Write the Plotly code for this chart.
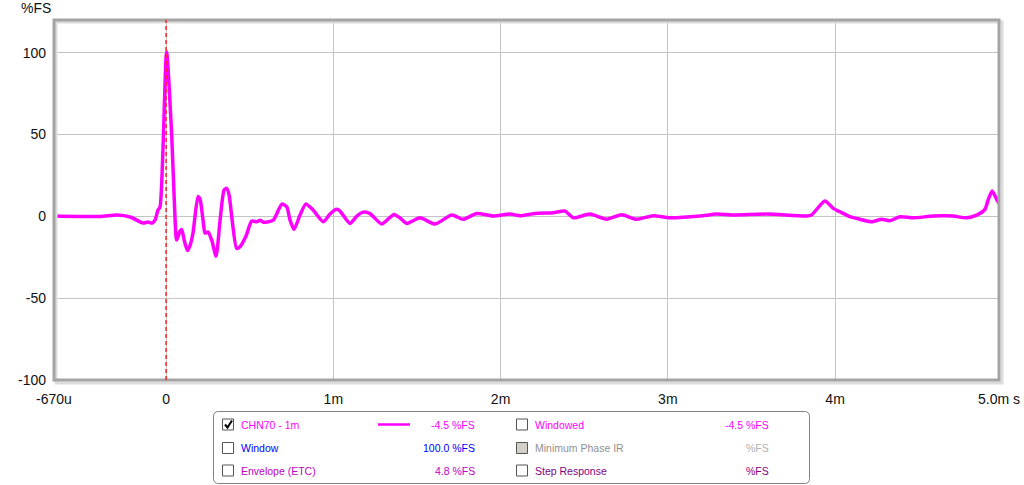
import plotly.graph_objects as go

# ---- data (time in ms, amplitude in %FS) ----
time_ms = [-0.669, -0.394, -0.293, -0.215, -0.137, -0.108, -0.084, -0.066, -0.048, -0.036,
           0.003, 0.034, 0.054, 0.063, 0.084, 0.094, 0.108, 0.128, 0.144, 0.161,
           0.191, 0.203, 0.221, 0.233, 0.251, 0.273, 0.299, 0.323, 0.347, 0.362,
           0.377, 0.395, 0.422, 0.442, 0.478, 0.512, 0.542, 0.562, 0.582, 0.641,
           0.692, 0.722, 0.741, 0.765, 0.801, 0.835, 0.879, 0.940, 0.980, 1.020,
           1.040, 1.099, 1.141, 1.179, 1.219, 1.289, 1.327, 1.363, 1.399, 1.439,
           1.518, 1.608, 1.708, 1.777, 1.857, 1.956, 2.056, 2.116, 2.206, 2.315,
           2.385, 2.435, 2.534, 2.634, 2.724, 2.813, 2.913, 3.012, 3.192, 3.292,
           3.391, 3.591, 3.830, 3.859, 3.939, 3.989, 4.029, 4.089, 4.148, 4.218,
           4.278, 4.328, 4.387, 4.467, 4.586, 4.706, 4.786, 4.846, 4.896, 4.915,
           4.939, 4.966, 4.980]
amplitude = [0.2, -0.1, 0.8, -0.4, -4.1, -3.5, -4.1, -2.3, 3.9, 5.7,
             100.5, 48.7, -2.3, -14.5, -9.0, -8.1, -14.5, -20.9, -17.6, -10.2,
             12.1, 10.6, -2.3, -10.2, -9.6, -14.5, -24.3, -2.3, 16.1, 17.1,
             13.0, -2.3, -19.6, -18.6, -12.0, -2.9, -3.3, -2.3, -3.6, -2.3,
             7.5, 5.7, -2.3, -8.0, 0.8, 7.5, 3.9, -3.3, 1.4, 4.3,
             3.2, -4.3, 0.2, 2.6, 1.7, -4.7, -1.7, 1.2, -1.0, -4.3,
             -0.9, -4.7, 0.8, -1.8, 1.8, 0.2, 1.4, 0.4, 1.8, 2.2,
             3.2, -0.9, 1.4, -1.7, 1.0, -1.8, 0.4, -0.9, 0.2, 1.4,
             0.8, 1.4, 0.2, 0.8, 9.4, 4.9, 2.8, -0.2, -1.8, -3.3,
             -1.8, -2.7, -0.2, -0.9, 0.2, 0.2, -0.9, 0.8, 4.3, 10.0,
             15.5, 10.4, 8.0]

x_tick_vals = [-0.67, 0, 1, 2, 3, 4, 4.98]
x_tick_text = ["-670u", "0", "1m", "2m", "3m", "4m", "5.0m s"]
y_tick_vals = [-100, -50, 0, 50, 100]
y_tick_text = ["-100", "-50", "0", "50", "100"]

legend_left = [("CHN70 - 1m", "-4.5 %FS", "#ff00ff", True),
               ("Window", "100.0 %FS", "#0000ff", False),
               ("Envelope (ETC)", "4.8 %FS", "#c000c0", False)]
legend_right = [("Windowed", "-4.5 %FS", "#ff00ff", "#ff00ff"),
                ("Minimum Phase IR", "%FS", "#909090", "#b0b0b0"),
                ("Step Response", "%FS", "#800080", "#800080")]

# ---- layout geometry (page pixels; body margin is removed by post_script) ----
W, H = 1024, 485
PL, PR, PT, PB = 54, 999, 20, 380          # plot area in page pixels
L, R, T, B = PL, W - PR, PT, H - PB
PW, PH = PR - PL, PB - PT


def px(x):
    return (x - PL) / PW


def py(y):
    return (PB - y) / PH


fig = go.Figure()
fig.add_trace(go.Scatter(x=time_ms, y=amplitude, mode="lines",
                         line=dict(color="#ff00ff", width=3.5, shape="spline", smoothing=0.6),
                         hoverinfo="skip", showlegend=False))

font_ax = dict(family="Liberation Sans, Arial, sans-serif", size=14, color="#111111")

fig.update_layout(
    width=W, height=H,
    margin=dict(l=L, r=R, t=T, b=B, pad=0, autoexpand=False),
    paper_bgcolor="white", plot_bgcolor="white",
    showlegend=False,
    xaxis=dict(range=[-0.67, 4.98], tickvals=x_tick_vals, ticktext=x_tick_text,
               showgrid=True, gridcolor="#c4c4c4", gridwidth=1, zeroline=False, automargin=False,
               ticks="", ticklabelstandoff=9, tickfont=font_ax, showline=False, fixedrange=True),
    yaxis=dict(range=[-100, 120], tickvals=y_tick_vals, ticktext=y_tick_text,
               showgrid=True, gridcolor="#c4c4c4", gridwidth=1, zeroline=False, automargin=False,
               ticks="", ticklabelstandoff=7, tickfont=font_ax, showline=False, fixedrange=True),
)

shapes = []
# frame shadow + frame
dx, dy = 1 / PW, 1 / PH
shapes.append(dict(type="rect", xref="paper", yref="paper", x0=0 + 2 * dx, x1=1 + 3 * dx,
                   y0=0 - 3 * dy, y1=1 - 2 * dy, line=dict(color="#dcdcdc", width=3), layer="above"))
shapes.append(dict(type="rect", xref="paper", yref="paper", x0=0, x1=1, y0=0, y1=1,
                   line=dict(color="#a4a4a4", width=3), layer="above"))
# red dashed marker at t=0
shapes.append(dict(type="line", xref="x", yref="paper", x0=0, x1=0, y0=0, y1=1,
                   line=dict(color="#ff2020", width=1.5, dash="4px,3px"), layer="above"))

# legend box with rounded corners
bx0, bx1, by0, by1, r = 213.5, 809.5, 411.5, 483.5, 5
path = (f"M {px(bx0 + r)} {py(by0)} L {px(bx1 - r)} {py(by0)} "
        f"Q {px(bx1)} {py(by0)} {px(bx1)} {py(by0 + r)} L {px(bx1)} {py(by1 - r)} "
        f"Q {px(bx1)} {py(by1)} {px(bx1 - r)} {py(by1)} L {px(bx0 + r)} {py(by1)} "
        f"Q {px(bx0)} {py(by1)} {px(bx0)} {py(by1 - r)} L {px(bx0)} {py(by0 + r)} "
        f"Q {px(bx0)} {py(by0)} {px(bx0 + r)} {py(by0)} Z")
shapes.append(dict(type="path", xref="paper", yref="paper", path=path,
                   line=dict(color="#808080", width=1), fillcolor="white"))

rows_y = [424.5, 448, 470.5]
annotations = []
lf = "Liberation Sans, Arial, sans-serif"


def checkbox(x0, yc, filled=False):
    shapes.append(dict(type="rect", xref="paper", yref="paper",
                       x0=px(x0), x1=px(x0 + 11), y0=py(yc - 5.5), y1=py(yc + 5.5),
                       line=dict(color="#555555", width=1),
                       fillcolor="#d4d0c8" if filled else "white"))


for (name, val, col, checked), yc in zip(legend_left, rows_y):
    checkbox(222.5, yc)
    if checked:
        shapes.append(dict(type="path", xref="paper", yref="paper",
                           path=f"M {px(225)} {py(yc)} L {px(227.5)} {py(yc + 3)} L {px(232)} {py(yc - 4)}",
                           line=dict(color="black", width=2)))
        shapes.append(dict(type="line", xref="paper", yref="paper", x0=px(378), x1=px(410),
                           y0=py(yc), y1=py(yc), line=dict(color="#ff00ff", width=2.5)))
    annotations.append(dict(x=px(239), y=py(yc), xref="paper", yref="paper", text=name,
                            showarrow=False, xanchor="left", yanchor="middle",
                            font=dict(family=lf, size=10.5, color=col)))
    annotations.append(dict(x=px(477), y=py(yc), xref="paper", yref="paper", text=val,
                            showarrow=False, xanchor="right", yanchor="middle",
                            font=dict(family=lf, size=10.5, color=col)))

for (name, val, col, vcol), yc in zip(legend_right, rows_y):
    checkbox(516.5, yc, filled=(name == "Minimum Phase IR"))
    annotations.append(dict(x=px(533), y=py(yc), xref="paper", yref="paper", text=name,
                            showarrow=False, xanchor="left", yanchor="middle",
                            font=dict(family=lf, size=10.5, color=col)))
    annotations.append(dict(x=px(771), y=py(yc), xref="paper", yref="paper", text=val,
                            showarrow=False, xanchor="right", yanchor="middle",
                            font=dict(family=lf, size=10.5, color=vcol)))

# y-axis unit title
annotations.append(dict(x=px(19), y=py(8.5), xref="paper", yref="paper", text="%FS",
                        showarrow=False, xanchor="left", yanchor="middle", font=font_ax))

fig.update_layout(shapes=shapes, annotations=annotations)
fig.write_html("out.html", config={"displayModeBar": False, "staticPlot": True},
               post_script="document.body.style.margin='0';document.body.style.overflow='hidden';")
